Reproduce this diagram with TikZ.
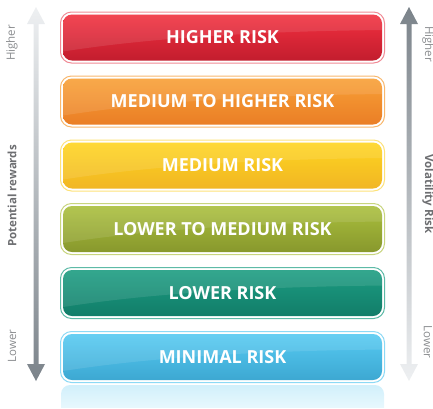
\documentclass[tikz,border=0pt]{standalone}
\usepackage{fontspec}
\setmainfont{Open Sans}
\definecolor{redT}{HTML}{F2303F}
\definecolor{redB}{HTML}{C21D2E}
\definecolor{redO}{HTML}{F08A95}
\definecolor{orgT}{HTML}{F8A036}
\definecolor{orgB}{HTML}{EA7E26}
\definecolor{orgO}{HTML}{F8B86E}
\definecolor{yelT}{HTML}{FED520}
\definecolor{yelB}{HTML}{F1B624}
\definecolor{yelO}{HTML}{FDE27A}
\definecolor{grnT}{HTML}{AABF3D}
\definecolor{grnB}{HTML}{88982D}
\definecolor{grnO}{HTML}{C8D57E}
\definecolor{tealT}{HTML}{1C9D82}
\definecolor{tealB}{HTML}{127D69}
\definecolor{tealO}{HTML}{5DBAA7}
\definecolor{bluT}{HTML}{56CAF2}
\definecolor{bluB}{HTML}{3DA8D2}
\definecolor{bluO}{HTML}{8CD9F5}
\definecolor{arrL}{HTML}{EEF0F2}
\definecolor{arrD}{HTML}{7B838A}
\definecolor{lblgray}{HTML}{8A8C8F}
\definecolor{ttlgray}{HTML}{6D6E71}
\tikzset{
  boxtext/.style={text=white, font=\fontsize{18}{18}\selectfont\bfseries},
  sidelabel/.style={text=lblgray, font=\fontsize{11.5}{11.5}\selectfont},
  sidetitle/.style={text=ttlgray, font=\fontsize{11.5}{11.5}\selectfont\bfseries},
}
\newcommand\riskbox[6]{%
  \path[draw=#5, line width=1pt, fill=white, rounded corners=11pt] (60.5,#2) rectangle (384.5,#2+51);
  \path[top color=#3, bottom color=#4, rounded corners=9pt] (63,#2+2.5) rectangle (382,#2+48.5);
  \begin{scope}
    \clip[rounded corners=9pt] (63,#2+2.5) rectangle (382,#2+48.5);
    \fill[white, opacity=0.10] (60,#2) -- (60,#2+40) .. controls (160,#2+24) and (280,#2+19) .. (385,#2+18) -- (385,#2) -- cycle;
  \end{scope}
  \node[boxtext] (#1) at (222.5,#2+25.5) {#6};
}
\begin{document}
\begin{tikzpicture}[x=1pt,y=-1pt]
\useasboundingbox (0,0) rectangle (433,408);
% reflection
\path[top color=bluO!40, bottom color=white, rounded corners=9pt] (61,385) rectangle (384,430);
\fill[white] (55,408) rectangle (390,432);
\riskbox{b1}{12}{redT}{redB}{redO}{HIGHER RISK}
\riskbox{b2}{76}{orgT}{orgB}{orgO}{MEDIUM TO HIGHER RISK}
\riskbox{b3}{140}{yelT}{yelB}{yelO}{MEDIUM RISK}
\riskbox{b4}{203.5}{grnT}{grnB}{grnO}{LOWER TO MEDIUM RISK}
\riskbox{b5}{267.5}{tealT}{tealB}{tealO}{LOWER RISK}
\riskbox{b6}{331.5}{bluT}{bluB}{bluO}{MINIMAL RISK}
% left arrow
\path[top color=arrL, bottom color=arrD]
  (36,7) -- (45,24) -- (38.5,24) -- (38.5,364) -- (45,364) -- (36,381)
  -- (27,364) -- (33.5,364) -- (33.5,24) -- (27,24) -- cycle;
% right arrow
\path[top color=arrD, bottom color=arrL]
  (409,7) -- (418,24) -- (411.5,24) -- (411.5,364) -- (418,364) -- (409,381)
  -- (400,364) -- (406.5,364) -- (406.5,24) -- (400,24) -- cycle;
% labels
\node[sidelabel, rotate=90] (lh) at (12,43) {Higher};
\node[sidelabel, rotate=90] (ll) at (12,346) {Lower};
\node[sidetitle, rotate=90] (lt) at (12,196) {Potential rewards};
\node[sidelabel, rotate=-90] (rh) at (428,44) {Higher};
\node[sidelabel, rotate=-90] (rl) at (428,342) {Lower};
\node[sidetitle, rotate=-90] (rt) at (428,194) {Volatility Risk};
\end{tikzpicture}
\end{document}
